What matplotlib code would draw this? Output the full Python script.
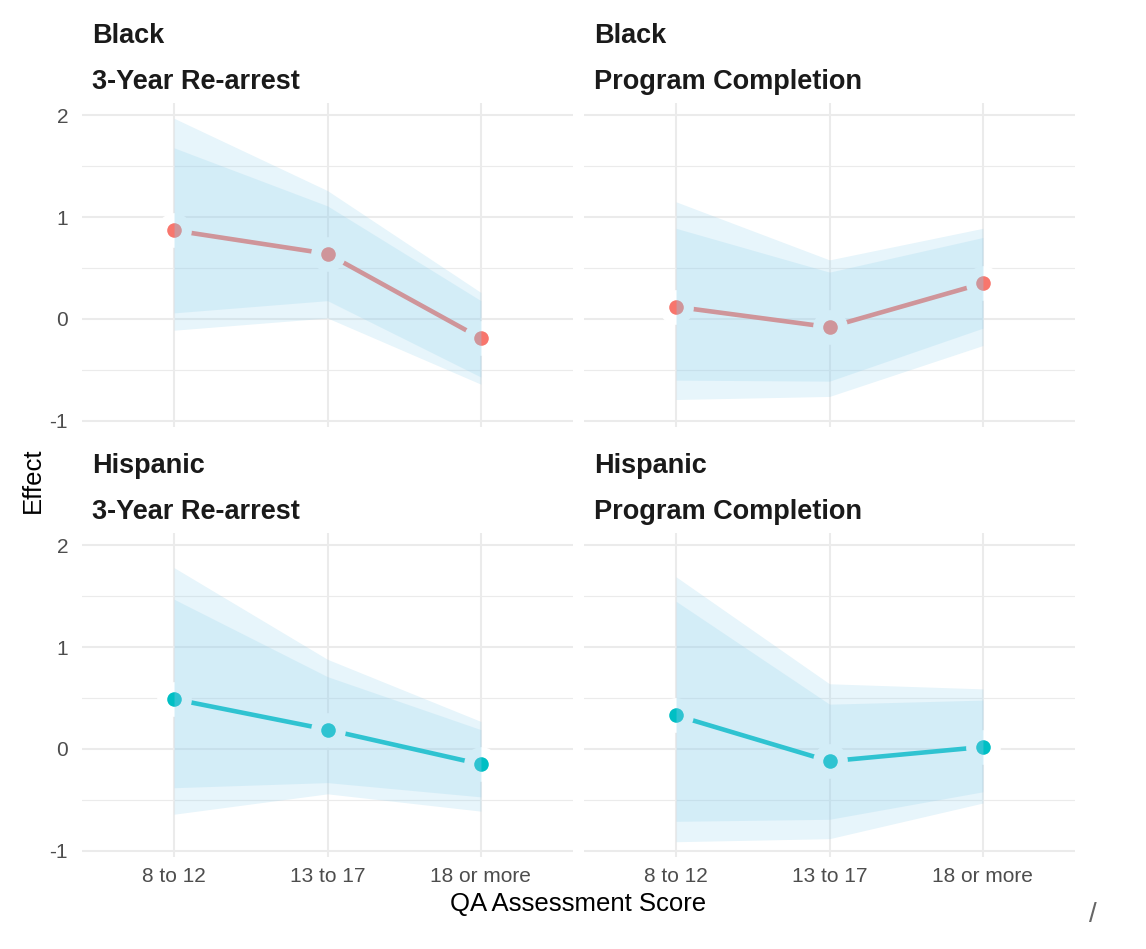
import numpy as np
import matplotlib.pyplot as plt

plt.rcParams['font.family'] = ['Liberation Sans', 'DejaVu Sans']

# categories on the x axis
categories = ["8 to 12", "13 to 17", "18 or more"]
groups = ["Black", "Hispanic"]
outcomes = ["3-Year Re-arrest", "Program Completion"]

# Black, 3-year re-arrest
black_rearrest_est = [0.87, 0.64, -0.19]
black_rearrest_lo95 = [-0.11, 0.01, -0.64]
black_rearrest_hi95 = [1.97, 1.26, 0.26]
black_rearrest_lo90 = [0.06, 0.18, -0.57]
black_rearrest_hi90 = [1.68, 1.11, 0.18]

# Black, program completion
black_completion_est = [0.12, -0.08, 0.35]
black_completion_lo95 = [-0.79, -0.76, -0.26]
black_completion_hi95 = [1.15, 0.58, 0.89]
black_completion_lo90 = [-0.60, -0.61, -0.09]
black_completion_hi90 = [0.89, 0.46, 0.80]

# Hispanic, 3-year re-arrest
hisp_rearrest_est = [0.49, 0.19, -0.15]
hisp_rearrest_lo95 = [-0.64, -0.44, -0.61]
hisp_rearrest_hi95 = [1.78, 0.88, 0.27]
hisp_rearrest_lo90 = [-0.38, -0.33, -0.47]
hisp_rearrest_hi90 = [1.47, 0.71, 0.19]

# Hispanic, program completion
hisp_completion_est = [0.33, -0.12, 0.02]
hisp_completion_lo95 = [-0.91, -0.88, -0.53]
hisp_completion_hi95 = [1.69, 0.64, 0.59]
hisp_completion_lo90 = [-0.71, -0.69, -0.42]
hisp_completion_hi90 = [1.45, 0.44, 0.48]

panels = {
    ("Black", "3-Year Re-arrest"): (black_rearrest_est, black_rearrest_lo95, black_rearrest_hi95,
                                    black_rearrest_lo90, black_rearrest_hi90),
    ("Black", "Program Completion"): (black_completion_est, black_completion_lo95, black_completion_hi95,
                                      black_completion_lo90, black_completion_hi90),
    ("Hispanic", "3-Year Re-arrest"): (hisp_rearrest_est, hisp_rearrest_lo95, hisp_rearrest_hi95,
                                       hisp_rearrest_lo90, hisp_rearrest_hi90),
    ("Hispanic", "Program Completion"): (hisp_completion_est, hisp_completion_lo95, hisp_completion_hi95,
                                         hisp_completion_lo90, hisp_completion_hi90),
}
group_colors = {"Black": "#F8766D", "Hispanic": "#00BFC4"}
ribbon_color = "#87CEEB"
grid_color = "#EBEBEB"

W, H = 1146, 949
fig = plt.figure(figsize=(W / 100, H / 100), dpi=100)

col_left = [82, 584]
col_width = 491
row_top = [103, 533]
row_height = 324

x = np.arange(1, len(categories) + 1)

for r, grp in enumerate(groups):
    for c, outc in enumerate(outcomes):
        est, lo95, hi95, lo90, hi90 = panels[(grp, outc)]
        ax = fig.add_axes([col_left[c] / W, 1 - (row_top[r] + row_height) / H,
                           col_width / W, row_height / H])
        col = group_colors[grp]

        # line, white halo, point, then the ribbons on top
        ax.plot(x, est, color=col, lw=3.3, solid_capstyle='butt', zorder=3)
        ax.plot(x, est, 'o', ms=25, color='white', mec='none', zorder=4)
        ax.plot(x, est, 'o', ms=10.5, color=col, mec='none', zorder=5)
        ax.fill_between(x, lo95, hi95, color=ribbon_color, alpha=0.2, lw=0, zorder=6)
        ax.fill_between(x, lo90, hi90, color=ribbon_color, alpha=0.2, lw=0, zorder=6)

        ax.set_xlim(0.4, 3.6)
        ax.set_ylim(-1.06, 2.12)
        ax.set_xticks(x)
        ax.set_yticks([-1, 0, 1, 2])
        ax.set_yticks([-0.5, 0.5, 1.5], minor=True)
        ax.grid(True, which='major', color=grid_color, lw=1.5, zorder=0)
        ax.grid(True, which='minor', axis='y', color=grid_color, lw=0.8, zorder=0)
        ax.set_axisbelow(True)
        for s in ax.spines.values():
            s.set_visible(False)
        ax.tick_params(which='both', length=0, labelsize=15, labelcolor='#4D4D4D')
        ax.tick_params(axis='x', pad=7)
        ax.tick_params(axis='y', pad=10)
        if r == 1:
            ax.set_xticklabels(categories)
        else:
            ax.set_xticklabels([])
        if c == 0:
            ax.set_yticklabels(["-1", "0", "1", "2"])
        else:
            ax.set_yticklabels([])

        ax.text(10 / col_width, 1 + 67 / row_height, grp, transform=ax.transAxes,
                fontsize=19.5, fontweight='bold', color='#1A1A1A', ha='left', va='center')
        ax.text(10 / col_width, 1 + 21 / row_height, outc, transform=ax.transAxes,
                fontsize=19.5, fontweight='bold', color='#1A1A1A', ha='left', va='center')

fig.text(33 / W, 1 - 480 / H, "Effect", rotation=90, fontsize=18.5, ha='center', va='center')
fig.text(578 / W, 1 - 904 / H, "QA Assessment Score", fontsize=18.5, ha='center', va='center')
fig.text(1093 / W, 1 - 915 / H, "/", fontsize=20, color='#666666', ha='center', va='center')

fig.savefig("out.png", dpi=100)
